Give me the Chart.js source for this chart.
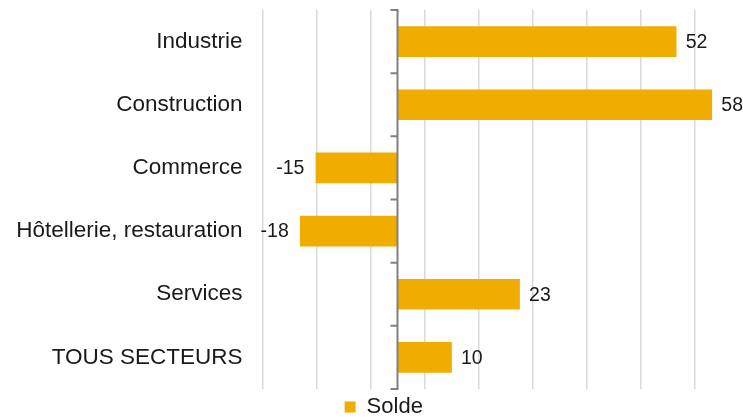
<!DOCTYPE html>
<html>
<head>
<meta charset="utf-8">
<script src="https://cdn.jsdelivr.net/npm/chart.js@4/dist/chart.umd.min.js"></script>
<style>
html,body{margin:0;padding:0;background:#fff;overflow:hidden;width:743px;height:417px;}
#wrap{width:743px;height:417px;overflow:hidden;position:relative;}
canvas{display:block;}
</style>
</head>
<body>
<div id="wrap"><canvas id="c" width="743" height="428"></canvas></div>
<script>
const categories = ["Industrie", "Construction", "Commerce", "Hôtellerie, restauration", "Services", "TOUS SECTEURS"];
const solde = [51.6, 58.2, -15.1, -18.0, 22.6, 10.0];
const seriesName = "Solde";
const gridTicks = [-25, -15, -5, 5, 15, 25, 35, 45, 55];

const FONT = "'Liberation Sans', Arial, sans-serif";
const BAR = "#F0AD00";

const zeroAxis = {
  id: 'zeroAxis',
  afterDatasetsDraw(chart) {
    const ctx = chart.ctx;
    const xs = chart.scales.x;
    const x0 = xs.getPixelForValue(0);
    const top = chart.chartArea.top, bottom = chart.chartArea.bottom;
    ctx.save();
    ctx.strokeStyle = '#808080';
    ctx.lineWidth = 2;
    ctx.beginPath();
    ctx.moveTo(x0, top);
    ctx.lineTo(x0, bottom);
    const n = categories.length;
    for (let i = 0; i <= n; i++) {
      const y = top + (bottom - top) * i / n;
      ctx.moveTo(x0 - 7, y);
      ctx.lineTo(x0 + 1, y);
    }
    ctx.stroke();
    ctx.fillStyle = '#1a1a1a';
    ctx.font = "19.5px " + FONT;
    ctx.textBaseline = 'middle';
    const meta = chart.getDatasetMeta(0);
    meta.data.forEach((bar, i) => {
      const v = solde[i];
      const txt = String(Math.round(v));
      if (v >= 0) {
        ctx.textAlign = 'left';
        ctx.fillText(txt, bar.x + 9.5, bar.y + 1);
      } else {
        ctx.textAlign = 'right';
        ctx.fillText(txt, bar.x - 11.5, bar.y + 1);
      }
    });
    ctx.restore();
  }
};

const legendShift = {
  id: 'legendShift',
  afterLayout(chart) {
    const d = 23;
    chart.legend.left += d;
    chart.legend.right += d;
  }
};

new Chart(document.getElementById('c'), {
  type: 'bar',
  data: {
    labels: categories,
    datasets: [{
      label: seriesName,
      data: solde,
      backgroundColor: BAR,
      borderWidth: 0,
      barThickness: 30
    }]
  },
  options: {
    indexAxis: 'y',
    responsive: false,
    animation: false,
    devicePixelRatio: 1,
    layout: { padding: { top: 10, right: 21.5, left: 0, bottom: 0 } },
    scales: {
      x: {
        min: -25,
        max: 60,
        afterBuildTicks(scale) {
          scale.ticks = gridTicks.map(v => ({ value: v }));
        },
        ticks: { display: false },
        grid: { color: '#d9d9d9', lineWidth: 1.5, drawTicks: false },
        border: { display: false }
      },
      y: {
        afterFit(scale) {
          scale.width = 262.5;
          scale.paddingTop = 0;
          scale.paddingBottom = 0;
        },
        ticks: {
          color: '#1a1a1a',
          padding: 20,
          font: { family: FONT, size: 22.5 }
        },
        grid: { display: false, drawTicks: false },
        border: { display: false }
      }
    },
    plugins: {
      legend: {
        position: 'bottom',
        labels: {
          boxWidth: 11,
          boxHeight: 11,
          padding: 7,
          color: '#1a1a1a',
          font: { family: FONT, size: 22 }
        }
      },
      tooltip: { enabled: false }
    }
  },
  plugins: [zeroAxis, legendShift]
});
</script>
</body>
</html>
